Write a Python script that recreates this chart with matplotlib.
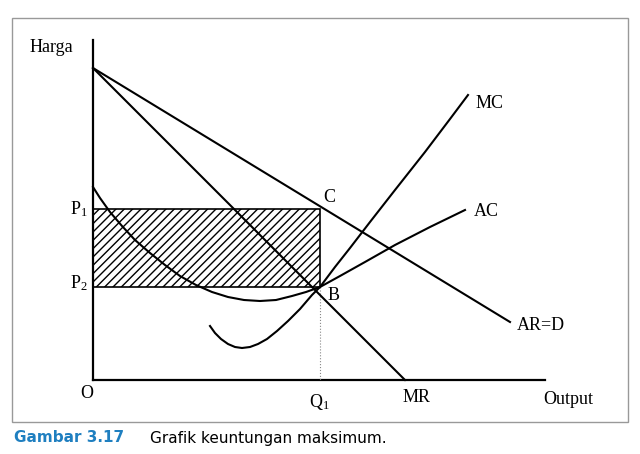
import numpy as np
import matplotlib.pyplot as plt
from matplotlib.patches import Rectangle

plt.rcParams['mathtext.fontset'] = 'stix'

# diagram coordinates (pixel space of the figure, y downwards)
origin = (93, 380)
top = (93, 68)
ar_end = (510, 322)
mr_end = (405, 380)
q1_x = 320
p1_y = 209
p2_y = 287

mc_x = [210, 215, 221, 228, 235, 242, 250, 258, 267, 277, 288, 300, 312, 320, 335, 350, 370, 395, 425, 450, 468]
mc_y = [326, 333, 339, 344, 347, 348, 347, 344, 339, 331, 321, 309, 295, 287, 267, 248, 222, 190, 152, 119, 95]
ac_x = [93, 100, 110, 122, 135, 150, 165, 180, 196, 212, 228, 244, 260, 276, 292, 306, 320, 340, 365, 395, 430, 465]
ac_y = [187, 198, 212, 226, 240, 253, 265, 276, 285, 292, 297, 300, 301, 300, 296, 292, 287, 276, 262, 245, 227, 210]

fig = plt.figure(figsize=(6.4, 4.54), dpi=100)
ax = fig.add_axes([0, 0, 1, 1])
ax.set_xlim(0, 640)
ax.set_ylim(454, 0)
ax.axis('off')

serif = 'Liberation Serif'

# border
ax.add_patch(Rectangle((12, 18), 616, 404, fill=False, ec='#999999', lw=1))

# axes
ax.plot([origin[0], origin[0]], [origin[1], 40], color='black', lw=1.6)
ax.plot([origin[0], 545], [origin[1], origin[1]], color='black', lw=1.6)

# profit rectangle
ax.add_patch(Rectangle((origin[0], p1_y), q1_x - origin[0], p2_y - p1_y,
                       fill=False, hatch='////', ec='black', lw=1.2))
ax.plot([q1_x, q1_x], [p2_y, origin[1]], color='#888888', lw=0.8, ls=':')

# demand and MR
ax.plot([top[0], ar_end[0]], [top[1], ar_end[1]], color='black', lw=1.5)
ax.plot([top[0], mr_end[0]], [top[1], mr_end[1]], color='black', lw=1.5)

# cost curves
ax.plot(mc_x, mc_y, color='black', lw=1.5, solid_joinstyle='round')
ax.plot(ac_x, ac_y, color='black', lw=1.5, solid_joinstyle='round')

fs = 13
ax.text(30, 48, 'Harga', fontsize=fs, family=serif, va='center')
ax.text(70, p1_y, 'P$_{\\mathregular{1}}$', fontsize=fs, family=serif, va='center')
ax.text(70, p2_y - 4, 'P$_{\\mathregular{2}}$', fontsize=fs, family=serif, va='center')
ax.text(80, 393, 'O', fontsize=fs, family=serif, va='center')
ax.text(309, 402, 'Q$_{\\mathregular{1}}$', fontsize=fs, family=serif, va='center')
ax.text(403, 398, 'MR', fontsize=fs, family=serif, va='center')
ax.text(543, 400, 'Output', fontsize=fs, family=serif, va='center')
ax.text(323, 197, 'C', fontsize=fs, family=serif, va='center')
ax.text(328, 295, 'B', fontsize=fs, family=serif, va='center')
ax.text(476, 103, 'MC', fontsize=fs, family=serif, va='center')
ax.text(474, 211, 'AC', fontsize=fs, family=serif, va='center')
ax.text(517, 326, 'AR=D', fontsize=fs, family=serif, va='center')

ax.text(14, 438, 'Gambar 3.17', fontsize=11, color='#1f7fc0', weight='bold', va='center')
ax.text(150, 438, 'Grafik keuntungan maksimum.', fontsize=11, va='center')

fig.savefig('out.png', dpi=100)
